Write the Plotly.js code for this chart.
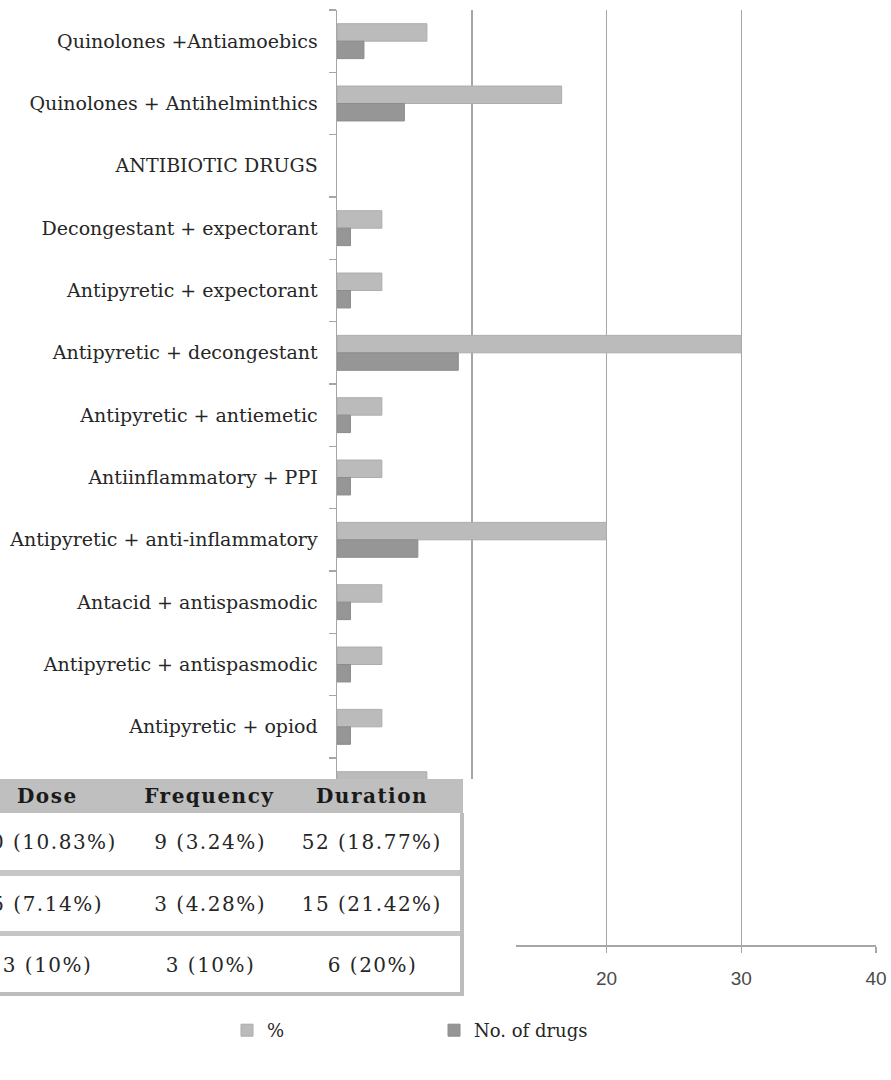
<!DOCTYPE html>
<html>
<head>
<meta charset="utf-8">
<script src="https://cdn.plot.ly/plotly-3.0.1.min.js"></script>
<style>
  html, body { margin: 0; padding: 0; background: #ffffff; }
  #chart { width: 891px; height: 1080px; }
  /* looser tracking for the summary table text */
  #chart .annotation-text { letter-spacing: 1.5px; }
</style>
</head>
<body>
<div id="chart"></div>
<script>
// Fixed-dose combinations, listed top to bottom
const categories = [
  "Quinolones +Antiamoebics",
  "Quinolones + Antihelminthics",
  "ANTIBIOTIC DRUGS",
  "Decongestant + expectorant",
  "Antipyretic + expectorant",
  "Antipyretic + decongestant",
  "Antipyretic + antiemetic",
  "Antiinflammatory + PPI",
  "Antipyretic + anti-inflammatory",
  "Antacid + antispasmodic",
  "Antipyretic + antispasmodic",
  "Antipyretic + opiod",
  "Antipyretic + antihistamine"
];
// tick text per category (the last row sits under the table panel)
const categoryTickText = categories.slice(0, 12).concat([""]);
const percentValues = [6.67, 16.67, null, 3.33, 3.33, 30, 3.33, 3.33, 20, 3.33, 3.33, 3.33, 6.67];
const drugCounts    = [2, 5, null, 1, 1, 9, 1, 1, 6, 1, 1, 1, 2];
const seriesNames = ["%", "No. of drugs"];
const xTickValues = [0, 10, 20, 30, 40];
const xTickText   = ["", "", "20", "30", "40"];

// Irrational prescription summary table
const tableHeader = ["Dose", "Frequency", "Duration"];
const tableRows = [
  ["30 (10.83%)", "9 (3.24%)", "52 (18.77%)"],
  ["5 (7.14%)", "3 (4.28%)", "15 (21.42%)"],
  ["3 (10%)", "3 (10%)", "6 (20%)"]
];

// ---- page geometry (pixels) ----
const W = 891, H = 1080;
const M = { l: 337, r: 15, t: 10, b: 135 };
const plotW = W - M.l - M.r, plotH = H - M.t - M.b;
const px = x => (x - M.l) / plotW;          // page x -> paper x
const py = y => (H - M.b - y) / plotH;      // page y -> paper y

const serif = "DejaVu Serif, serif";
const textCol = "#262626";
const gridCol = "#a6a6a6";

const traces = [
  {
    type: "bar", orientation: "h", name: seriesNames[0],
    y: categories, x: percentValues,
    marker: { color: "#bbbbbb", line: { color: "#acacac", width: 1 } },
    hoverinfo: "x+y"
  },
  {
    type: "bar", orientation: "h", name: seriesNames[1],
    y: categories, x: drugCounts,
    marker: { color: "#969696", line: { color: "#8c8c8c", width: 1 } },
    hoverinfo: "x+y"
  }
];

// table block: white panel, header band, row separators, borders
const colCenters = [47, 210, 372];
const headerTop = 779, headerBottom = 813;
const rowCenters = [842, 904, 965];
const shapes = [];
function rectPx(x0, y0, x1, y1, fill) {
  shapes.push({
    type: "rect", xref: "paper", yref: "paper", layer: "above",
    x0: px(x0), x1: px(x1), y0: py(y1), y1: py(y0),
    fillcolor: fill, line: { width: 0 }
  });
}
rectPx(-10, headerTop, 516, 1010, "#ffffff");
rectPx(-10, headerTop, 463, headerBottom, "#bfbfbf");
rectPx(-10, 870, 463, 876, "#c6c6c6");
rectPx(-10, 931, 463, 936, "#c6c6c6");
rectPx(-10, 992, 463, 996, "#bdbdbd");
rectPx(460, headerBottom, 464, 996, "#bdbdbd");

const annotations = [];
tableHeader.forEach((h, i) => {
  annotations.push({
    xref: "paper", yref: "paper", x: px(colCenters[i]), y: py((headerTop + headerBottom) / 2),
    xanchor: "center", yanchor: "middle", showarrow: false,
    text: "<b>" + h + "</b>",
    font: { family: serif, size: 20, color: "#1a1a1a" }
  });
});
tableRows.forEach((row, r) => {
  row.forEach((cell, c) => {
    annotations.push({
      xref: "paper", yref: "paper", x: px(colCenters[c]), y: py(rowCenters[r]),
      xanchor: "center", yanchor: "middle", showarrow: false,
      text: cell,
      font: { family: serif, size: 20, color: textCol }
    });
  });
});

const layout = {
  width: W, height: H,
  margin: M,
  paper_bgcolor: "#ffffff", plot_bgcolor: "#ffffff",
  barmode: "group", bargap: 0.44, bargroupgap: 0,
  showlegend: true,
  legend: {
    orientation: "h", x: px(227), y: py(1012), xanchor: "left", yanchor: "top",
    entrywidth: 162, entrywidthmode: "pixels",
    font: { family: serif, size: 18, color: textCol }
  },
  xaxis: {
    range: [0, 40], tickmode: "array", tickvals: xTickValues, ticktext: xTickText,
    showgrid: true, gridcolor: gridCol, gridwidth: 1.5,
    zeroline: false, showline: true, linecolor: gridCol, linewidth: 1.5,
    ticks: "outside", ticklen: 6, tickcolor: gridCol, tickwidth: 1.5,
    ticklabelstandoff: 10,
    tickfont: { family: "Liberation Sans, Arial, sans-serif", size: 19, color: "#4a4a4a" },
    fixedrange: true
  },
  yaxis: {
    type: "category", categoryorder: "array", categoryarray: categories,
    tickmode: "array", tickvals: categories, ticktext: categoryTickText,
    range: [14.5, -0.5],
    showgrid: false, zeroline: false,
    showline: true, linecolor: gridCol, linewidth: 1.5,
    ticks: "outside", tickson: "boundaries", ticklen: 7, tickcolor: gridCol, tickwidth: 1.5,
    ticklabelstandoff: 14,
    tickfont: { family: serif, size: 19, color: textCol },
    fixedrange: true
  },
  shapes: shapes,
  annotations: annotations
};

Plotly.newPlot("chart", traces, layout, { displayModeBar: false, staticPlot: true });
</script>
</body>
</html>
